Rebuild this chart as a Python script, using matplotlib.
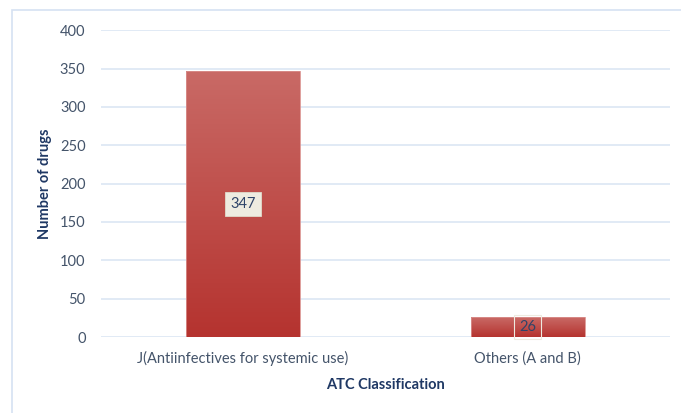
import matplotlib.pyplot as plt
import numpy as np
from matplotlib.patches import Rectangle
from matplotlib.colors import LinearSegmentedColormap

categories = ['J(Antiinfectives for systemic use)', 'Others (A and B)']
counts = [347, 26]
yticks = [0, 50, 100, 150, 200, 250, 300, 350, 400]

plt.rcParams['font.family'] = ['Lato', 'DejaVu Sans']

fig = plt.figure(figsize=(6.81, 4.13), dpi=100)
ax = fig.add_axes([0.148, 0.184, 0.836, 0.743])

# outer chart border (light blue)
fig.patches.append(Rectangle((12 / 681, -0.1), 1.2, 1 - 10 / 413 + 0.1,
                             transform=fig.transFigure, fill=False,
                             edgecolor='#d6e1f2', linewidth=1.2))

x = np.arange(len(categories))
bars = ax.bar(x, counts, width=0.4, color='none', edgecolor='none', zorder=3)

cmap = LinearSegmentedColormap.from_list('red', ['#b5332f', '#c96a66'])
grad = np.linspace(0, 1, 256).reshape(-1, 1)
for b in bars:
    x0, y0 = b.get_x(), b.get_y()
    w, h = b.get_width(), b.get_height()
    im = ax.imshow(grad, extent=[x0, x0 + w, y0, y0 + h], origin='lower',
                   cmap=cmap, aspect='auto', zorder=3)
    im.set_clip_path(b)
    ax.add_patch(Rectangle((x0, y0), w, h, fill=False, edgecolor='#d98f8c',
                           linewidth=0.6, zorder=4))

# data labels
ax.text(x[0], counts[0] / 2, str(counts[0]), ha='center', va='center',
        fontsize=10.5, color='#2f4469', zorder=5,
        bbox=dict(boxstyle='square,pad=0.35', facecolor='#eeebe0', edgecolor='#e0dccc', linewidth=0.6))
ax.text(x[1], counts[1] / 2, str(counts[1]), ha='center', va='center',
        fontsize=10.5, color='#2f4469', zorder=5,
        bbox=dict(boxstyle='square,pad=0.35', facecolor='none', edgecolor='#eeebe0', linewidth=0.8))

ax.set_xlim(-0.5, 1.5)
ax.set_ylim(0, 400)
ax.set_yticks(yticks)
ax.set_xticks(x)
ax.set_xticklabels(categories)
ax.grid(axis='y', color='#dce6f4', linewidth=1.2, zorder=0)
ax.set_axisbelow(True)
for s in ax.spines.values():
    s.set_visible(False)
ax.tick_params(axis='both', length=0, labelsize=10.5, labelcolor='#44546a')
ax.tick_params(axis='y', pad=11)
ax.tick_params(axis='x', pad=10)

ax.set_ylabel('Number of drugs', fontsize=10.5, fontweight='bold', color='#1f3864', labelpad=6)
ax.set_xlabel('ATC Classification', fontsize=10.5, fontweight='bold', color='#1f3864', labelpad=9)

fig.savefig('out.png', dpi=100)
